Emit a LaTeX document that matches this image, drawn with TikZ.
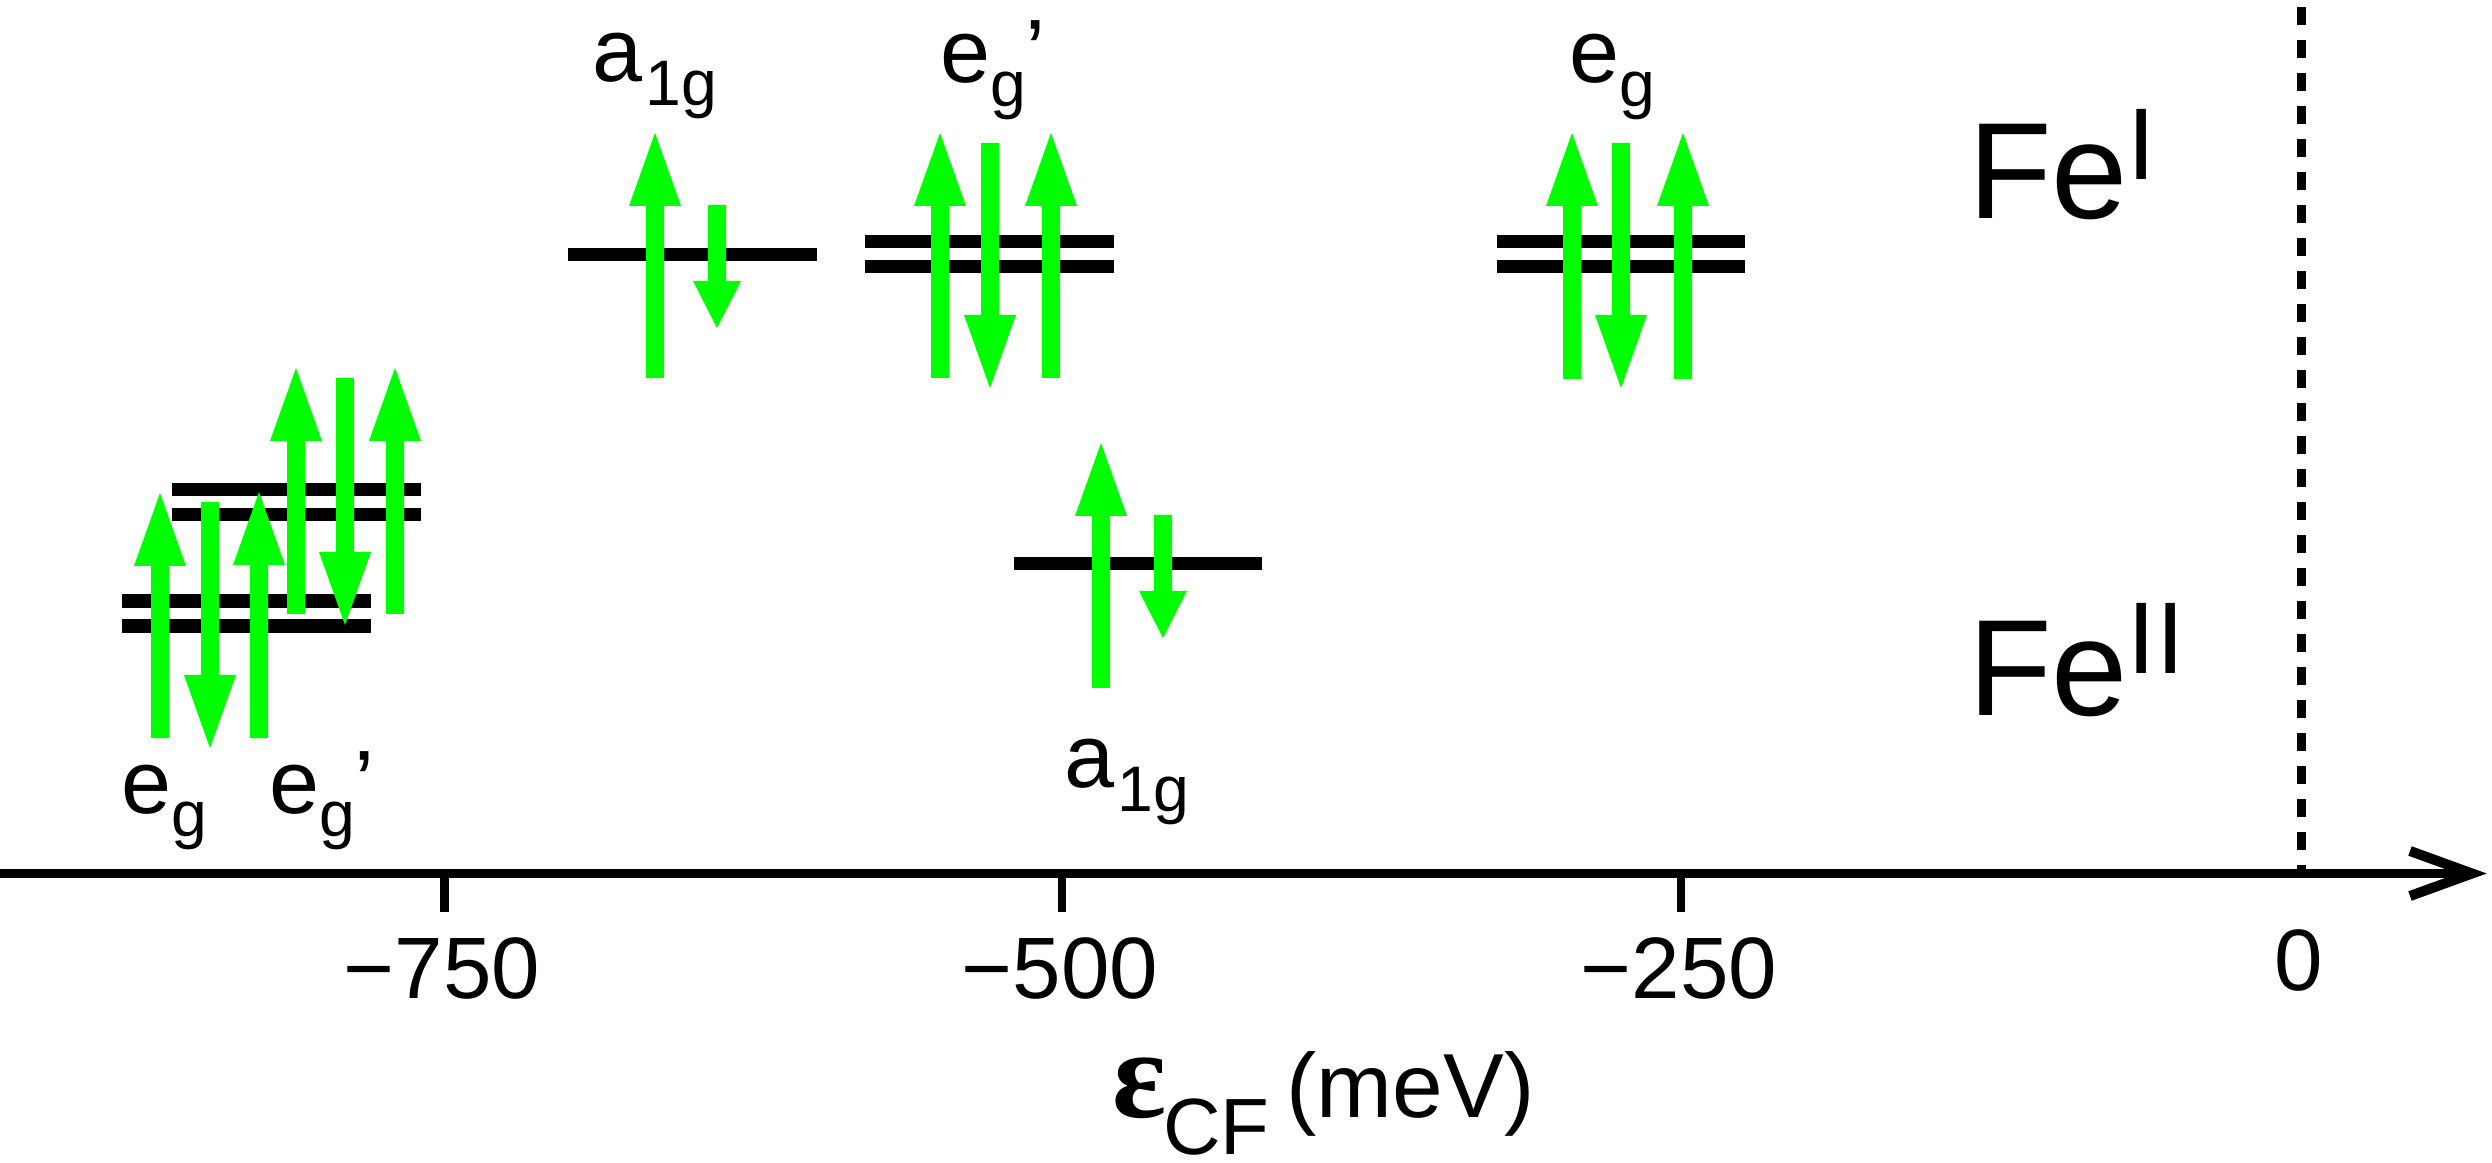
\documentclass[tikz,border=0pt]{standalone}
\usepackage{fontspec}
\setmainfont{Liberation Sans}
\newfontfamily\serifeps{Liberation Serif}
\definecolor{spingreen}{RGB}{0,255,0}
\newcommand{\lblsize}{\fontsize{25.6pt}{30pt}\selectfont}
\newcommand{\subsize}{\fontsize{18.3pt}{21pt}\selectfont}
\newcommand{\fesize}{\fontsize{39pt}{44pt}\selectfont}
\newcommand{\fesup}{\fontsize{29pt}{33pt}\selectfont}
\newcommand{\ticksize}{\fontsize{24.8pt}{29pt}\selectfont}
\newcommand{\axsize}{\fontsize{25.9pt}{30pt}\selectfont}
\newcommand{\cfsize}{\fontsize{22.7pt}{26pt}\selectfont}
\newcommand{\epssize}{\fontsize{36pt}{40pt}\selectfont}
\newcommand{\orb}[2]{{\lblsize #1}\raisebox{-6.8pt}[0pt][0pt]{\subsize #2}}
\newcommand{\spinup}[5]{\fill[spin] ({#1-9},#2) -- ({#1-9},{#3+#4}) -- ({#1-#5},{#3+#4}) -- (#1,#3) -- ({#1+#5},{#3+#4}) -- ({#1+9},{#3+#4}) -- ({#1+9},#2) -- cycle;}
\newcommand{\spindown}[5]{\fill[spin] ({#1-9},#2) -- ({#1-9},{#3-#4}) -- ({#1-#5},{#3-#4}) -- (#1,#3) -- ({#1+#5},{#3-#4}) -- ({#1+9},{#3-#4}) -- ({#1+9},#2) -- cycle;}
\begin{document}
\begin{tikzpicture}[x=0.1mm,y=-0.1mm,
  spin/.style={fill=spingreen},
  level/.style={line width=3.7pt,black},
  axisline/.style={line width=2.7pt,black},
  tickline/.style={line width=2.5pt,black},
  lbl/.style={anchor=base west,inner sep=0pt,outer sep=0pt},
  ticklbl/.style={anchor=base,inner sep=0pt,outer sep=0pt,font=\ticksize}]
\useasboundingbox (0,0) rectangle (2492,1163);
% dashed zero line
\draw[line width=2.56pt,dash pattern=on 5.12pt off 4.27pt] (2301.5,7) -- (2301.5,873);
% energy levels
\draw[level] (122,601) -- (371,601);
\draw[level] (122,626) -- (371,626);
\draw[level] (172,490) -- (421,490);
\draw[level] (172,515) -- (421,515);
\draw[level] (568,255) -- (817,255);
\draw[level] (865,242) -- (1114,242);
\draw[level] (865,267) -- (1114,267);
\draw[level] (1497,242) -- (1745,242);
\draw[level] (1497,267) -- (1745,267);
\draw[level] (1014,564) -- (1262,564);
% spins Fe II e_g
\spinup{160}{738}{493}{73}{26}
\spindown{210}{502}{748}{73}{26}
\spinup{259}{738}{492}{73}{26}
% Fe II e_g'
\spinup{296}{614}{368}{73}{26}
\spindown{345}{378}{625}{73}{26}
\spinup{395}{614}{368}{73}{26}
% Fe I a_1g
\spinup{655}{378}{133}{73}{26}
\spindown{717}{205}{328}{47}{24}
% Fe I e_g'
\spinup{940}{378}{133}{73}{26}
\spindown{990}{143}{388}{73}{26}
\spinup{1051}{378}{133}{73}{26}
% Fe I e_g
\spinup{1572}{379}{133}{73}{26}
\spindown{1621}{143}{388}{73}{26}
\spinup{1683}{379}{133}{73}{26}
% Fe II a_1g
\spinup{1101}{688}{443}{73}{26}
\spindown{1163}{515}{638}{47}{24}
% axis
\coordinate (axstart) at (0,873.5);
\coordinate (axend) at (2474,873.5);
\draw[axisline] (axstart) -- (axend);
\draw[line width=2.85pt,line join=miter] (2410,851) -- (2472,873.5) -- (2410,896);
% ticks
\draw[tickline] (444.5,874) -- (444.5,912);
\draw[tickline] (1062,874) -- (1062,912);
\draw[tickline] (1681,874) -- (1681,912);
\node[ticklbl] (t750) at (442,998) {−750};
\node[ticklbl] (t500) at (1060,998) {−500};
\node[ticklbl] (t250) at (1679,998) {−250};
\node[ticklbl] (t0) at (2299,990) {0};
% axis label
\node[lbl] (xlab) at (1112,1117) {\makebox[14.6pt][l]{\epssize\serifeps\bfseries ε}\raisebox{-10.6pt}[0pt][0pt]{\cfsize CF}\hspace{4.8pt}{\axsize (meV)}};
% orbital labels
\node[lbl] (labegII) at (121,813) {\orb{e}{g}};
\node[lbl] (labegpII) at (269,813) {\orb{e}{g}{\lblsize ’}};
\node[lbl] (labaI) at (592,82) {\orb{a}{\hspace{1.1pt}1g}};
\node[lbl] (labegpI) at (940,83) {\orb{e}{g}{\lblsize ’}};
\node[lbl] (labegI) at (1569,83) {\orb{e}{g}};
\node[lbl] (labaII) at (1064,788) {\orb{a}{\hspace{1.1pt}1g}};
% Fe labels
\node[lbl] (feI) at (1968,219) {{\fesize Fe}\raisebox{11.1pt}{\fesup I}};
\node[lbl] (feII) at (1968,715) {{\fesize Fe}\raisebox{11.7pt}{\fesup II}};
\end{tikzpicture}
\end{document}
